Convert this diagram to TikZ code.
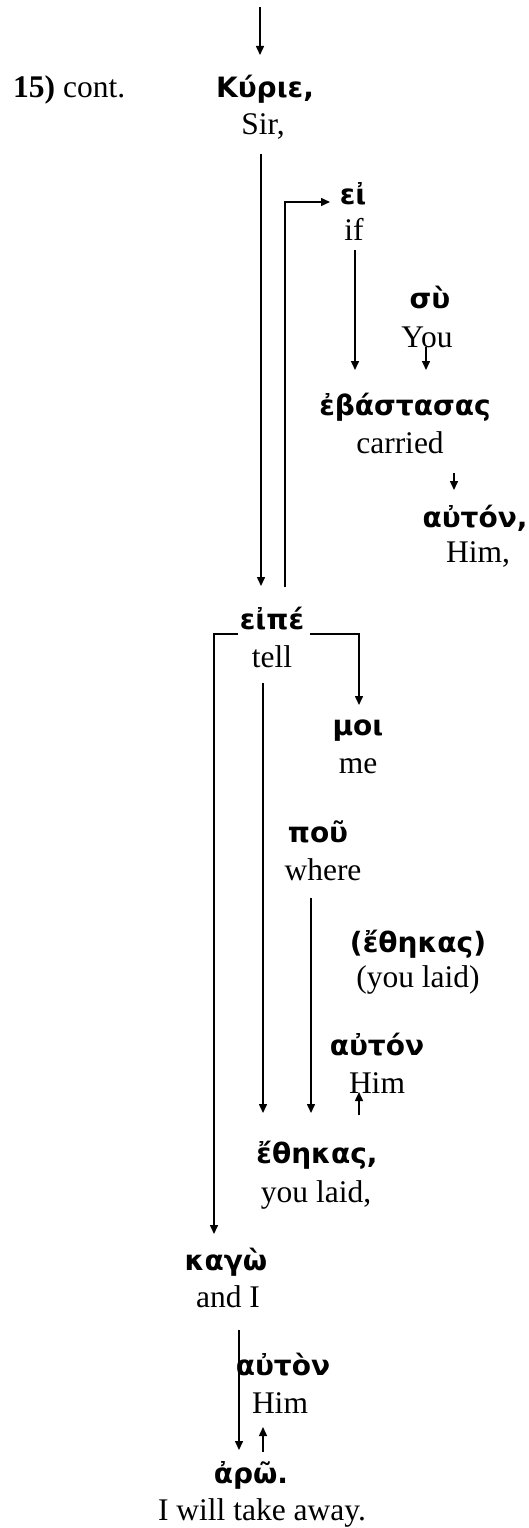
\documentclass[tikz,border=0pt]{standalone}
\usepackage{fontspec}
\setmainfont{Liberation Serif}
\newfontfamily\gk{DejaVu Sans}
\usetikzlibrary{arrows.meta,calc}
\begin{document}
\begin{tikzpicture}[x=1pt,y=-1pt,
  gr/.style={anchor=base,inner sep=0pt,font=\gk\bfseries\fontsize{28}{31}\selectfont},
  en/.style={anchor=base,inner sep=0pt,font=\fontsize{31.5}{36}\selectfont},
  arr/.style={-{Triangle[length=9pt,width=8pt]},line width=1.5pt}]
\useasboundingbox (0,0) rectangle (528,1528);
% text
\node[en,anchor=base west] (num) at (13,97) {\textbf{15)} cont.};
\node[gr] (g1) at (265,97) {Κύριε,};
\node[en] (e1) at (263,134) {Sir,};
\node[gr] (g2) at (353,204) {εἰ};
\node[en] (e2) at (354,240) {if};
\node[gr] (g3) at (430,308) {σὺ};
\node[en] (e3) at (427,347) {You};
\node[gr] (g4) at (405,415) {ἐβάστασας};
\node[en] (e4) at (400,453) {carried};
\node[gr] (g5) at (475,527) {αὐτόν,};
\node[en] (e5) at (478,562) {Him,};
\node[gr] (g6) at (272,629) {εἰπέ};
\node[en] (e6) at (272,667) {tell};
\node[gr] (g7) at (358,735) {μοι};
\node[en] (e7) at (358,773) {me};
\node[gr] (g8) at (318,842) {ποῦ};
\node[en] (e8) at (323,880) {where};
\node[gr] (g9) at (418,952) {(ἔθηκας)};
\node[en] (e9) at (418,987) {(you laid)};
\node[gr] (g10) at (377,1055) {αὐτόν};
\node[en] (e10) at (377,1093) {Him};
\node[gr] (g11) at (317,1163) {ἔθηκας,};
\node[en] (e11) at (316,1202) {you laid,};
\node[gr] (g12) at (226,1270) {καγὼ};
\node[en] (e12) at (228,1307) {and I};
\node[gr] (g13) at (283,1375) {αὐτὸν};
\node[en] (e13) at (280,1413) {Him};
\node[gr] (g14) at (251,1483) {ἀρῶ.};
\node[en] (e14) at (262,1520) {I will take away.};
% connectors
\coordinate (top) at (260,7);
\draw[arr] (top) -- ($(g1.base)+(-5,-42)$);
\draw[arr] ($(e1.base)+(-2,20)$) -- ($(g6.base)+(-11,-43)$);
\draw[arr] ($(g6.base)+(13,-42)$) |- ($(g2.base)+(-23,-2)$);
\draw[arr] ($(e2.base)+(1,10)$) -- ($(g4.base)+(-50,-45)$);
\draw[arr] ($(e3.base)+(-1,0)$) -- ($(g4.base)+(21,-45)$);
\draw[arr] ($(e4.base)+(54,20)$) -- ($(g5.base)+(-21,-37)$);
\draw[arr] ($(g6.base)+(38,5)$) -| ($(g7.base)+(1,-30)$);
\draw[arr] ($(g6.base)+(-34,5)$) -| ($(g12.base)+(-12,-36)$);
\draw[arr] ($(e6.base)+(-9,16)$) -- ($(g11.base)+(-54,-50)$);
\draw[arr] ($(e8.base)+(-12,18)$) -- ($(g11.base)+(-6,-50)$);
\draw[arr] ($(g11.base)+(42,-48)$) -- ($(e10.base)+(-18,-1)$);
\draw[arr] ($(e12.base)+(11,23)$) -- ($(g14.base)+(-12,-33)$);
\draw[arr] ($(g14.base)+(12,-31)$) -- ($(e13.base)+(-17,14)$);
\end{tikzpicture}
\end{document}
